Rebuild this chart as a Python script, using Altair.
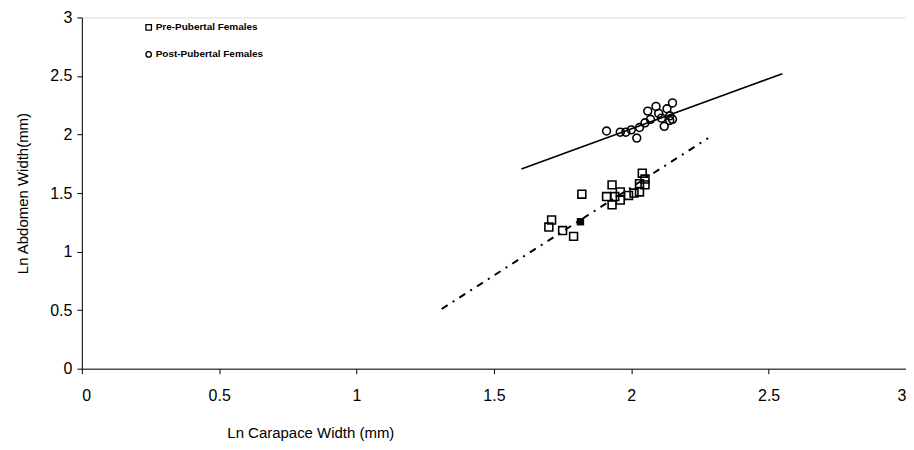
import altair as alt
import pandas as pd

# Pre-pubertal females (squares)
pre_x = [1.71, 1.70, 1.75, 1.79, 1.82, 1.91, 1.93, 1.94, 1.93, 1.96, 1.96, 1.99, 2.01, 2.03, 2.03, 2.05, 2.04, 2.05]
pre_y = [1.27, 1.21, 1.18, 1.13, 1.49, 1.47, 1.57, 1.47, 1.40, 1.44, 1.51, 1.48, 1.50, 1.51, 1.58, 1.57, 1.67, 1.62]

# Post-pubertal females (circles)
post_x = [1.91, 1.96, 1.98, 2.00, 2.02, 2.03, 2.05, 2.06, 2.07, 2.09, 2.10, 2.11, 2.12, 2.13, 2.14, 2.15, 2.15, 2.14]
post_y = [2.03, 2.02, 2.02, 2.04, 1.97, 2.06, 2.10, 2.20, 2.13, 2.24, 2.18, 2.14, 2.07, 2.22, 2.16, 2.27, 2.13, 2.12]

# Filled marker on the pre-pubertal trend
filled_x = [1.815]
filled_y = [1.255]

# Trend lines (end points)
post_line_x = [1.60, 2.55]
post_line_y = [1.705, 2.52]
pre_line_x = [1.31, 2.28]
pre_line_y = [0.51, 1.97]

groups = ["Pre-Pubertal Females", "Post-Pubertal Females"]

pts = pd.DataFrame({
    "x": pre_x + post_x,
    "y": pre_y + post_y,
    "g": [groups[0]] * len(pre_x) + [groups[1]] * len(post_x),
})
post_line = pd.DataFrame({"x": post_line_x, "y": post_line_y})
pre_line = pd.DataFrame({"x": pre_line_x, "y": pre_line_y})
filled = pd.DataFrame({"x": filled_x, "y": filled_y})

FONT = "Liberation Sans"

xs = alt.Scale(domain=[0, 3], nice=False, zero=False)
ys = alt.Scale(domain=[0, 3], nice=False, zero=False)

xaxis = alt.Axis(values=[0, 0.5, 1, 1.5, 2, 2.5, 3], format="~g", grid=False,
                 title="Ln Carapace Width (mm)", tickSize=5, labelPadding=14,
                 labelFontSize=16, titleFontSize=15, titleFontWeight="normal",
                 titleX=229, titleAnchor="middle", titlePadding=22,
                 domainColor="black", tickColor="black", labelColor="black",
                 titleColor="black", labelFont=FONT, titleFont=FONT)
yaxis = alt.Axis(values=[0, 0.5, 1, 1.5, 2, 2.5, 3], format="~g", grid=False,
                 title="Ln Abdomen Width(mm)", tickSize=5, labelPadding=5,
                 labelFontSize=16, titleFontSize=15, titleFontWeight="normal",
                 titlePadding=19,
                 domainColor="black", tickColor="black", labelColor="black",
                 titleColor="black", labelFont=FONT, titleFont=FONT)

points = alt.Chart(pts).mark_point(filled=False, stroke="black", strokeWidth=1.6, opacity=1).encode(
    x=alt.X("x:Q", scale=xs, axis=xaxis),
    y=alt.Y("y:Q", scale=ys, axis=yaxis),
    shape=alt.Shape("g:N", scale=alt.Scale(domain=groups, range=["square", "circle"]),
                    legend=alt.Legend(title=None, orient="none", legendX=62, legendY=5,
                                      labelFont=FONT, labelFontSize=10, labelFontWeight="bold",
                                      labelColor="black", symbolStrokeColor="black",
                                      symbolFillColor="white", symbolStrokeWidth=1.3,
                                      symbolSize=30, rowPadding=15, labelOffset=2)),
    size=alt.value(62),
)

solid = alt.Chart(post_line).mark_line(color="black", strokeWidth=1.6).encode(
    x=alt.X("x:Q", scale=xs), y=alt.Y("y:Q", scale=ys))
dashed = alt.Chart(pre_line).mark_line(color="black", strokeWidth=2, strokeDash=[7, 6, 2, 6]).encode(
    x=alt.X("x:Q", scale=xs), y=alt.Y("y:Q", scale=ys))
fill = alt.Chart(filled).mark_point(shape="square", filled=True, color="black", opacity=1, size=55).encode(
    x=alt.X("x:Q", scale=xs), y=alt.Y("y:Q", scale=ys))

chart = alt.layer(solid, dashed, points, fill).properties(
    width=826, height=352,
    autosize=alt.AutoSizeParams(type="none"),
    padding={"left": 74, "top": 9, "right": 0, "bottom": 73},
).configure_view(stroke=None).configure(background="white")

chart.save("out.html", embed_options={"renderer": "svg", "actions": False})
